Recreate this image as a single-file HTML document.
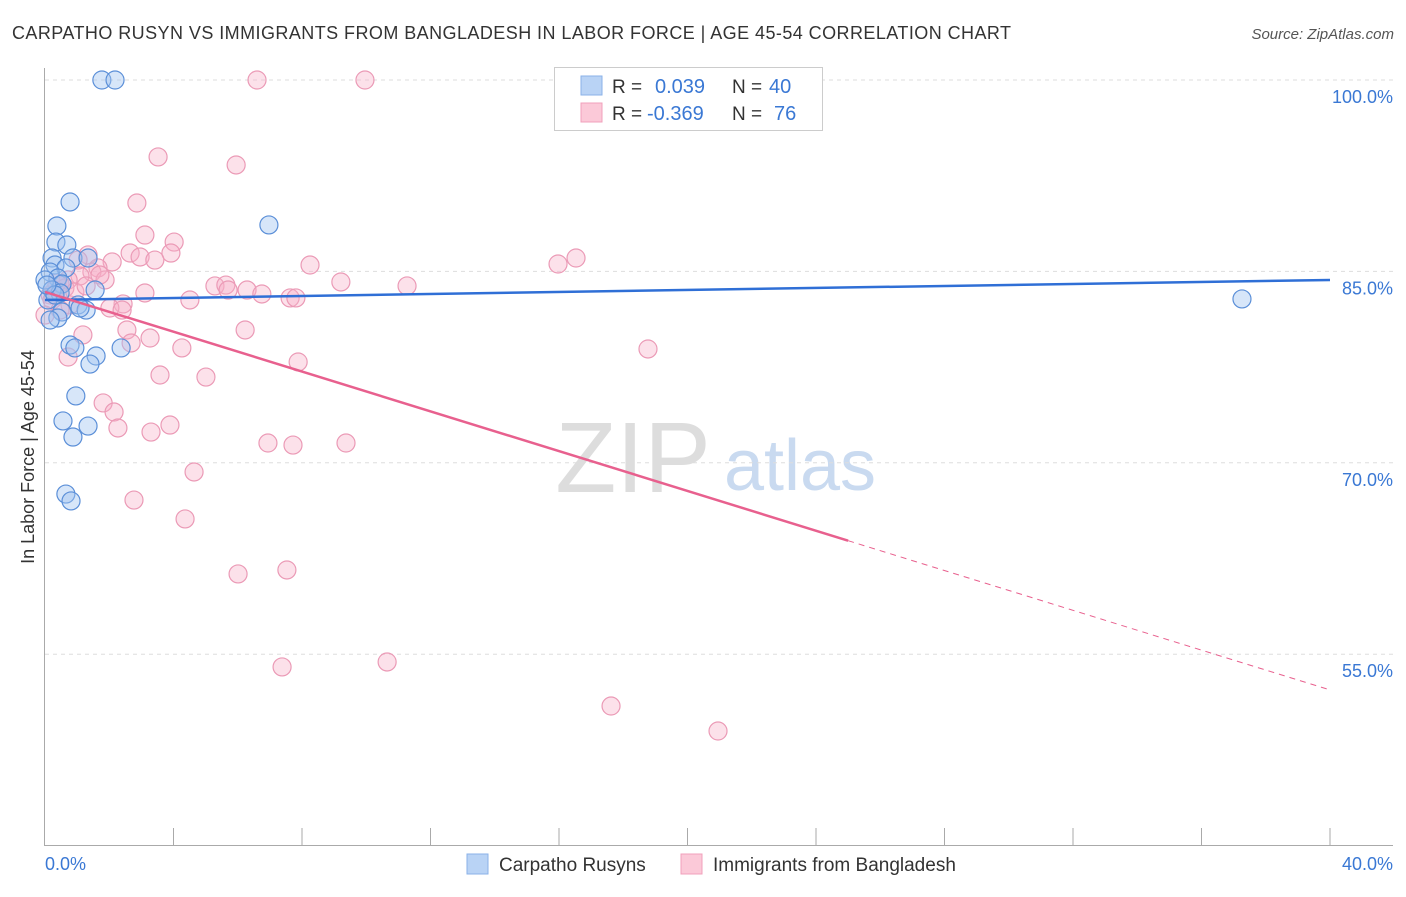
<!DOCTYPE html>
<html><head><meta charset="utf-8"><style>
body{margin:0;background:#fff;font-family:"Liberation Sans",sans-serif;}
svg text{font-family:"Liberation Sans",sans-serif;}
</style></head><body>
<svg id="chart" width="1406" height="892" xmlns="http://www.w3.org/2000/svg">
<text x="12" y="39" font-size="18" fill="#333" textLength="999" lengthAdjust="spacing">CARPATHO RUSYN VS IMMIGRANTS FROM BANGLADESH IN LABOR FORCE | AGE 45-54 CORRELATION CHART</text>
<text x="1394" y="39" font-size="15" font-style="italic" fill="#555" text-anchor="end">Source: ZipAtlas.com</text>
<text x="34" y="457" font-size="18" fill="#333" text-anchor="middle" transform="rotate(-90 34 457)">In Labor Force | Age 45-54</text>
<g><text x="633" y="492" font-size="100" font-family="Liberation Serif" fill="#ddd" text-anchor="middle">ZIP</text><text x="800" y="490" font-size="72" fill="#c9daf0" text-anchor="middle">atlas</text></g>
<g id="grid"></g>
<g id="axes"></g>
<g id="pts"></g>
<g id="trend"></g>
<g>
<rect x="554.5" y="67.5" width="268" height="63" fill="#fff" stroke="#ccc"/>
<rect x="581" y="76" width="21" height="19" fill="#b9d3f5" stroke="#8ab2e8"/>
<rect x="581" y="103" width="21" height="19" fill="#fbc9d8" stroke="#f0a0bb"/>
<text x="612" y="93" font-size="19" fill="#333">R = </text><text x="655" y="93" font-size="20" fill="#3a78d4">0.039</text>
<text x="732" y="93" font-size="19" fill="#333">N = </text><text x="769" y="93" font-size="20" fill="#3a78d4">40</text>
<text x="612" y="120" font-size="19" fill="#333">R = </text><text x="647" y="120" font-size="20" fill="#3a78d4">-0.369</text>
<text x="732" y="120" font-size="19" fill="#333">N = </text><text x="774" y="120" font-size="20" fill="#3a78d4">76</text>
</g>
<g>
<rect x="467" y="854" width="21" height="20" fill="#b9d3f5" stroke="#8ab2e8"/>
<text x="499" y="871" font-size="19" fill="#333">Carpatho Rusyns</text>
<rect x="681" y="854" width="21" height="20" fill="#fbc9d8" stroke="#f0a0bb"/>
<text x="713" y="871" font-size="19" fill="#333">Immigrants from Bangladesh</text>
</g>
</svg>
<script>
const blueX=[1.77,2.18,0.78,0.37,6.97,0.34,0.68,0.22,0.31,0.87,1.34,0.65,0.16,0.40,0,0.53,0.22,0.47,1.56,1.03,1.28,0.53,0.40,0.16,0.78,0.93,2.37,1.59,1.40,0.96,0.56,1.34,0.87,0.65,0.81,37.26,0.09,0.31,1.09,0.06];
const blueY=[100,100,90.44,88.56,88.64,87.30,87.07,86.05,85.50,86.05,86.05,85.27,84.95,84.48,84.33,84.01,83.54,83.31,83.54,82.37,81.97,81.82,81.35,81.19,79.23,79.00,79.00,78.37,77.74,75.24,73.28,72.88,72.02,67.55,67.01,82.84,82.76,83.15,82.13,83.93];
const pinkX=[6.6,9.96,3.52,5.95,2.86,3.11,4.02,3.92,2.65,2.96,3.42,2.09,1.34,1.03,1.65,1.46,1.87,1.09,0.72,0.47,8.25,9.21,11.27,15.97,16.53,5.29,5.63,5.70,6.29,6.75,7.63,7.81,3.11,4.51,2.43,2.02,2.40,0.78,1.18,2.55,3.27,2.68,4.26,6.23,7.88,0.72,3.58,5.01,18.77,1.81,2.15,2.27,3.30,3.89,6.94,7.72,9.37,4.64,2.77,4.36,6.01,7.53,7.38,10.65,17.62,20.95,0.16,0.31,0.62,0.93,0.22,0.47,0,1.28,1.71,0.37];
const pinkY=[100,100,93.97,93.34,90.36,87.85,87.30,86.44,86.44,86.13,85.89,85.74,86.29,85.89,85.27,84.95,84.33,84.64,84.33,83.93,85.50,84.17,83.86,85.58,86.05,83.86,83.93,83.54,83.54,83.23,82.92,82.92,83.31,82.76,82.45,82.13,81.97,82.37,80.02,80.41,79.78,79.39,79.00,80.41,77.90,78.29,76.88,76.72,78.92,74.69,73.98,72.73,72.41,72.96,71.55,71.39,71.55,69.28,67.08,65.60,61.29,61.60,54.00,54.39,50.94,48.98,83.15,83.54,83.70,83.39,82.76,81.97,81.58,83.86,84.72,84.09];
const yTicks=[100,85,70,55];
const blueTrend=[82.76,84.33];
const pinkTrend=[83.39,52.2];
const pinkSolidEnd=25;
const NS="http://www.w3.org/2000/svg";
const sx=v=>45+v*32.125, sy=v=>80+(100-v)*12.76;
function mk(t,a,p){const e=document.createElementNS(NS,t);for(const k in a)e.setAttribute(k,a[k]);document.getElementById(p).appendChild(e);return e;}
yTicks.forEach(t=>{
 const l=mk('line',{x1:45,x2:1393,y1:sy(t),y2:sy(t),stroke:'#ddd','stroke-dasharray':'4 4'},'grid');
 
 
 const tx=mk('text',{x:1393,y:sy(t)+23,'font-size':18,fill:'#3a78d4','text-anchor':'end'},'grid');
 tx.textContent=t.toFixed(1)+'%';
 
 
});
mk('line',{x1:44.5,x2:44.5,y1:68,y2:845,stroke:'#aaa'},'axes');
mk('line',{x1:44,x2:1393,y1:845.5,y2:845.5,stroke:'#aaa'},'axes');
for(let i=1;i<=10;i++){const x=sx(i*4);const tk=mk('line',{x1:x,x2:x,y1:828,y2:845,stroke:'#aaa'},'axes');
 
 }
let a=mk('text',{x:45,y:870,'font-size':18,fill:'#3a78d4'},'axes');a.textContent='0.0%';


a=mk('text',{x:1393,y:870,'font-size':18,fill:'#3a78d4','text-anchor':'end'},'axes');a.textContent='40.0%';


pinkX.forEach((x,i)=>{const c=mk('circle',{cx:sx(x),cy:sy(pinkY[i]),r:9,fill:'rgba(248,175,200,0.38)',stroke:'#eb9ab6','stroke-width':1.2},'pts');
 
 });
blueX.forEach((x,i)=>{const c=mk('circle',{cx:sx(x),cy:sy(blueY[i]),r:9,fill:'rgba(160,195,240,0.42)',stroke:'#5b8fd8','stroke-width':1.2},'pts');
 
 });
let ln=mk('line',{x1:sx(0),y1:sy(blueTrend[0]),x2:sx(40),y2:sy(blueTrend[1]),stroke:'#2f6fd6','stroke-width':2.5},'trend');


const pv=x=>pinkTrend[0]+(pinkTrend[1]-pinkTrend[0])*x/40;
ln=mk('line',{x1:sx(0),y1:sy(pv(0)),x2:sx(pinkSolidEnd),y2:sy(pv(pinkSolidEnd)),stroke:'#e8608e','stroke-width':2.5},'trend');


ln=mk('line',{x1:sx(pinkSolidEnd),y1:sy(pv(pinkSolidEnd)),x2:sx(40),y2:sy(pv(40)),stroke:'#e8608e','stroke-width':1,'stroke-dasharray':'6 5'},'trend');


</script>
</body></html>
